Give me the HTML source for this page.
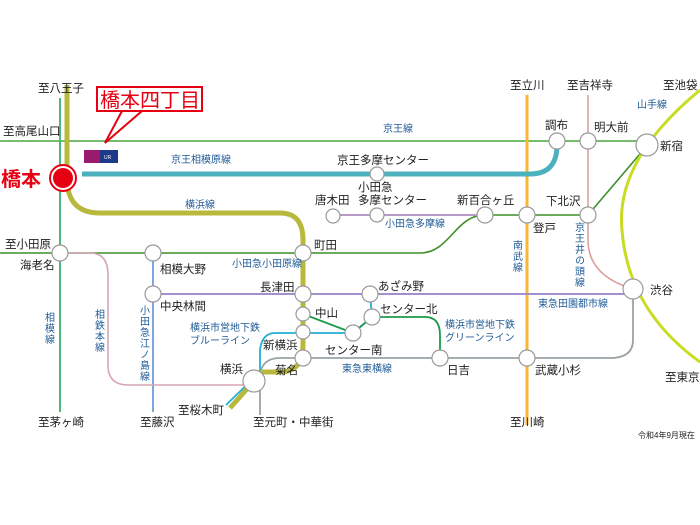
<!DOCTYPE html>
<html><head><meta charset="utf-8"><style>
html,body{margin:0;padding:0;background:#fff;width:700px;height:525px;overflow:hidden}
svg{display:block;font-family:"Liberation Sans","Noto Sans CJK JP",sans-serif}
.s{font-size:11.5px;fill:#222}
.l{font-size:10px;fill:#1f5a96}
.v{font-size:10px;fill:#1f5a96;writing-mode:tb;letter-spacing:1px}
.st{fill:#fff;stroke:#999;stroke-width:1.2}
</style></head><body>
<svg width="700" height="525" viewBox="0 0 700 525">
<path d="M0 141H640" stroke="#4aa63c" stroke-width="1.6" fill="none"/>
<path d="M0 253H420 C450 253 455 215 485 215 H588 L645 148" stroke="#3f8f2a" stroke-width="1.6" fill="none"/>
<path d="M333 215H485" stroke="#b99ac9" stroke-width="2" fill="none"/>
<path d="M60 98V412" stroke="#4fb878" stroke-width="2" fill="none"/>
<path d="M527 95V425" stroke="#f7b733" stroke-width="3" fill="none"/>
<path d="M588 95V240 C588 265 605 280 630 288" stroke="#dfa0a0" stroke-width="1.6" fill="none"/>
<path d="M153 294H630" stroke="#a38fd0" stroke-width="2" fill="none"/>
<path d="M153 253V412" stroke="#5a8fd6" stroke-width="1.6" fill="none"/>
<path d="M60 253H90 Q108 253 108 275 V365 Q108 385 128 385 H250" stroke="#d6a6b5" stroke-width="1.6" fill="none"/>
<path d="M633 290V340 Q633 358 610 358 H280 Q262 358 260 375 V415" stroke="#9aa3a6" stroke-width="1.8" fill="none"/>
<path d="M370 294 L372 317 L353 333 H275 Q262 333 260 350 V372 L226 405" stroke="#1fb0d6" stroke-width="1.8" fill="none"/>
<path d="M303 314 L353 333 L372 317 H425 Q440 317 440 335 V358" stroke="#1a9a4a" stroke-width="1.8" fill="none"/>
<path d="M67 85V178 Q67 213 100 213 H280 Q303 213 303 240 V345 Q303 372 280 372 H262 L230 408" stroke="#b7b83c" stroke-width="5" fill="none"/>
<path d="M82 174H530 Q557 174 557 145" stroke="#4bb2bd" stroke-width="5" fill="none"/>
<path d="M700 90 Q615 160 622 230 Q628 310 700 362" stroke="#c8dc22" stroke-width="3" fill="none"/>
<g class="st">
<circle cx="557" cy="141" r="8"/><circle cx="588" cy="141" r="8"/><circle cx="647" cy="145" r="11"/>
<circle cx="377" cy="174" r="7"/>
<circle cx="333" cy="216" r="7"/><circle cx="377" cy="215" r="7"/><circle cx="485" cy="215" r="8"/><circle cx="527" cy="215" r="8"/><circle cx="588" cy="215" r="8"/>
<circle cx="60" cy="253" r="8"/><circle cx="153" cy="253" r="8"/><circle cx="303" cy="253" r="8"/>
<circle cx="153" cy="294" r="8"/><circle cx="303" cy="294" r="8"/><circle cx="370" cy="294" r="8"/><circle cx="633" cy="289" r="10"/>
<circle cx="303" cy="314" r="7"/><circle cx="372" cy="317" r="8"/>
<circle cx="303" cy="332" r="7"/><circle cx="353" cy="333" r="8"/>
<circle cx="303" cy="358" r="8"/><circle cx="440" cy="358" r="8"/><circle cx="527" cy="358" r="8"/>
<circle cx="254" cy="381" r="11"/>
</g>
<circle cx="63" cy="178" r="13" fill="#fff" stroke="#e60012" stroke-width="2"/>
<circle cx="63" cy="178" r="10" fill="#e60012"/>
<text x="1" y="186" font-size="20" font-weight="bold" fill="#e60012">橋本</text>
<rect x="97" y="87" width="105" height="24" fill="#fff" stroke="#e60012" stroke-width="2"/>
<polygon points="122,111 142,111 105,143" fill="#fff" stroke="#e60012" stroke-width="2" stroke-linejoin="miter"/>
<rect x="123" y="106" width="18" height="4" fill="#fff"/>
<text x="100" y="107" font-size="20" fill="#e60012">橋本四丁目</text>
<rect x="84" y="150" width="16" height="13" fill="#9a1b6b"/><rect x="100" y="150" width="18" height="13" fill="#1d3a8a"/>
<text x="104" y="159" font-size="5" fill="#fff">UR</text>
<g class="s">
<text x="38" y="92">至八王子</text><text x="3" y="135">至高尾山口</text>
<text x="337" y="164">京王多摩センター</text>
<text x="545" y="129">調布</text><text x="594" y="131">明大前</text><text x="660" y="150">新宿</text>
<text x="510" y="89">至立川</text><text x="567" y="89">至吉祥寺</text><text x="663" y="89">至池袋</text>
<text x="315" y="204">唐木田</text><text x="358" y="191">小田急</text><text x="358" y="204">多摩センター</text>
<text x="457" y="204">新百合ヶ丘</text><text x="546" y="205">下北沢</text><text x="533" y="232">登戸</text>
<text x="5" y="248">至小田原</text><text x="20" y="269">海老名</text><text x="314" y="249">町田</text><text x="160" y="273">相模大野</text>
<text x="260" y="291">長津田</text><text x="160" y="310">中央林間</text><text x="650" y="294">渋谷</text>
<text x="315" y="317">中山</text><text x="378" y="290">あざみ野</text><text x="380" y="313">センター北</text>
<text x="263" y="349">新横浜</text><text x="325" y="354">センター南</text>
<text x="275" y="374">菊名</text><text x="447" y="374">日吉</text><text x="535" y="374">武蔵小杉</text><text x="220" y="373">横浜</text>
<text x="665" y="381">至東京</text>
<text x="38" y="426">至茅ヶ崎</text><text x="178" y="414">至桜木町</text><text x="140" y="426">至藤沢</text>
<text x="253" y="426">至元町・中華街</text><text x="510" y="426">至川崎</text>
<text x="638" y="438" font-size="8">令和4年9月現在</text>
</g>
<g class="l">
<text x="171" y="163">京王相模原線</text><text x="383" y="132">京王線</text><text x="637" y="108">山手線</text>
<text x="385" y="227">小田急多摩線</text><text x="185" y="208">横浜線</text><text x="232" y="267">小田急小田原線</text>
<text x="538" y="307">東急田園都市線</text>
<text x="190" y="331">横浜市営地下鉄</text><text x="190" y="344">ブルーライン</text>
<text x="445" y="328">横浜市営地下鉄</text><text x="445" y="341">グリーンライン</text>
<text x="342" y="372">東急東横線</text>
<text class="v" x="516" y="240">南武線</text>
<text class="v" x="578" y="222">京王井の頭線</text>
<text class="v" x="48" y="312">相模線</text>
<text class="v" x="98" y="309">相鉄本線</text>
<text class="v" x="143" y="305">小田急江ノ島線</text>
</g>
</svg>
</body></html>
